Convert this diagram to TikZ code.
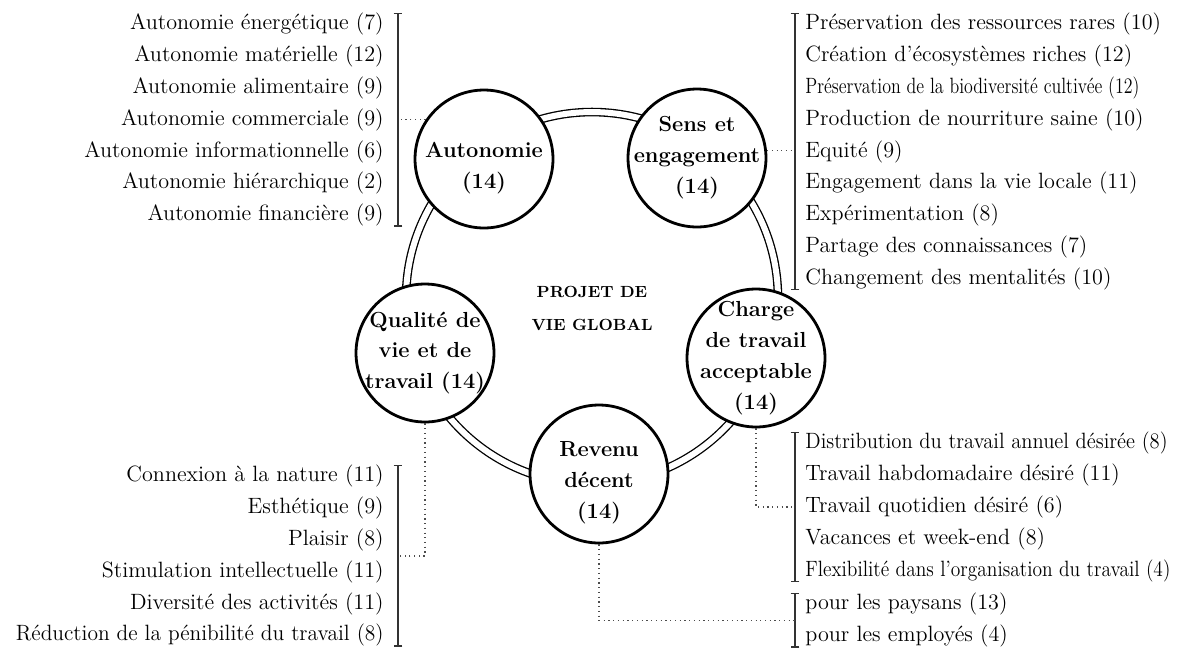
\documentclass[tikz,border=0pt]{standalone}
\usepackage{tikz}
\usetikzlibrary{arrows.meta}

\newcommand{\sq}[2]{\scalebox{#1}[1]{#2}}

\tikzset{
  pillar/.style={circle, draw, line width=1.6pt, fill=white, minimum size=2.76cm, inner sep=0pt},
  ptext/.style={font=\bfseries\fontsize{12.4}{17.6}\selectfont, align=center},
  core/.style={font=\bfseries\fontsize{9.2}{18.8}\selectfont, align=center},
  items/.style={font=\fontsize{12.6}{18.1}\selectfont, inner sep=0pt},
  brk/.style={line width=0.8pt, black!80, {Bar[width=5pt]}-{Bar[width=5pt]}},
  link/.style={dotted, line width=0.7pt, black!70},
  ring/.style={double, double distance=3.4pt, line width=0.75pt}
}

\begin{document}
\begin{tikzpicture}[x=0.02cm, y=-0.02cm]
\useasboundingbox (0,0) rectangle (1187,650);

% ring and centre
\coordinate (c) at (592,298);
\draw[ring] (c) circle [radius=3.72cm];
\node[core] (title) at (592,308) {PROJET DE\\VIE GLOBAL};

% the five pillars
\node[pillar, label={[ptext, yshift=-5pt]center:Autonomie\\(14)}] (aut) at (484,159) {};
\node[pillar, label={[ptext]center:Sens et\\engagement\\(14)}] (sen) at (697,158) {};
\node[pillar, label={[ptext]center:Qualité de\\vie et de\\travail (14)}] (qua) at (425,353) {};
\node[pillar, label={[ptext]center:Charge\\de travail\\acceptable\\(14)}] (cha) at (756,358) {};
\node[pillar, label={[ptext, yshift=-5pt]center:Revenu\\décent\\(14)}] (rev) at (599,474) {};

% lists
\node[items, anchor=north east, align=right] (autL) at (384,13) {Autonomie énergétique (7)\\Autonomie matérielle (12)\\Autonomie alimentaire (9)\\Autonomie commerciale (9)\\Autonomie informationnelle (6)\\Autonomie hiérarchique (2)\\Autonomie financière (9)};
\node[items, anchor=north west, align=left] (senL) at (805,13) {Préservation des ressources rares (10)\\Création d’écosystèmes riches (12)\\\sq{0.81}{Préservation de la biodiversité cultivée (12)}\\Production de nourriture saine (10)\\Equité (9)\\Engagement dans la vie locale (11)\\Expérimentation (8)\\Partage des connaissances (7)\\Changement des mentalités (10)};
\node[items, anchor=north east, align=right] (quaL) at (384,465) {Connexion à la nature (11)\\Esthétique (9)\\Plaisir (8)\\Stimulation intellectuelle (11)\\Diversité des activités (11)\\\sq{0.97}{Réduction de la pénibilité du travail (8)}};
\node[items, anchor=north west, align=left] (chaL) at (805,432) {\sq{0.93}{Distribution du travail annuel désirée (8)}\\Travail habdomadaire désiré (11)\\Travail quotidien désiré (6)\\Vacances et week-end (8)\\\sq{0.88}{Flexibilité dans l’organisation du travail (4)}};
\node[items, anchor=north west, align=left] (revL) at (805,593) {pour les paysans (13)\\pour les employés (4)};

% brackets
\draw[brk] ([xshift=8pt]autL.north east) -- ([xshift=8pt]autL.south east);
\draw[brk] ([xshift=-5.7pt]senL.north west) -- ([xshift=-5.7pt]senL.south west);
\draw[brk] ([xshift=8pt]quaL.north east) -- ([xshift=8pt]quaL.south east);
\draw[brk] ([xshift=-5.7pt]chaL.north west) -- ([xshift=-5.7pt]chaL.south west);
\draw[brk] ([xshift=-5.7pt]revL.north west) -- ([xshift=-5.7pt]revL.south west);
\coordinate (autB) at ([xshift=8pt]autL.east);
\coordinate (senB) at ([xshift=-5.7pt]senL.west);
\coordinate (quaB) at ([xshift=8pt]quaL.east);
\coordinate (chaB) at ([xshift=-5.7pt]chaL.west);
\coordinate (revB) at ([xshift=-5.7pt]revL.west);

% dotted links
\draw[link] (aut.146) -- (aut.146 -| autB);
\draw[link] (sen.6) -- (sen.6 -| senB);
\draw[link] (qua.south) |- (quaB);
\draw[link] (cha.south) |- (chaB);
\draw[link] (rev.south) |- (revB);
\end{tikzpicture}
\end{document}
